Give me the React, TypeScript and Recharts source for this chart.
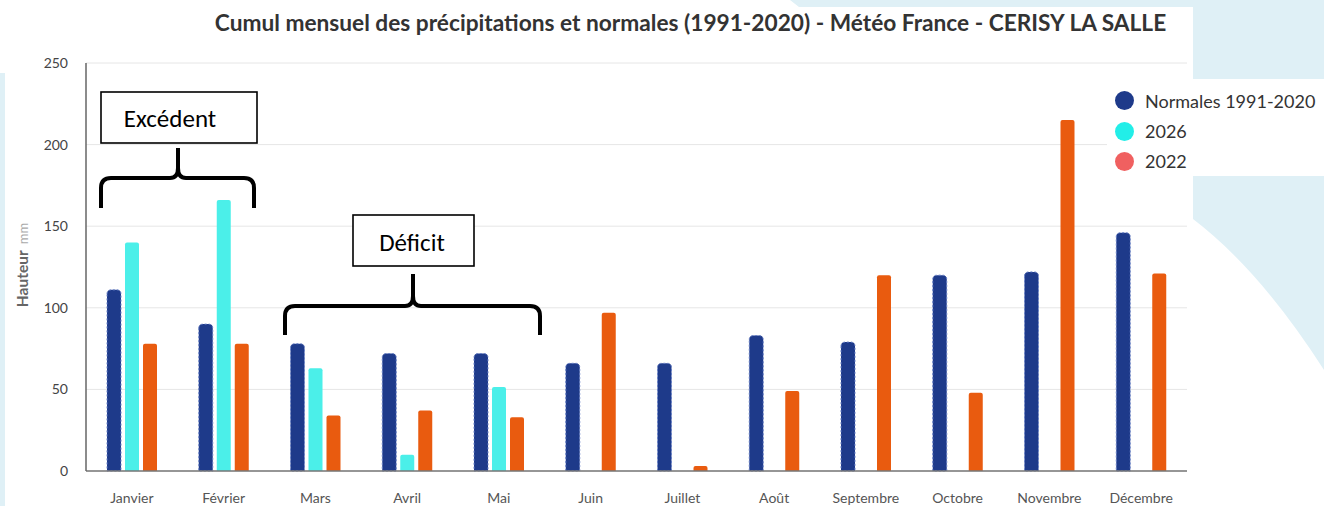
import React from 'react';
import { BarChart, Bar, XAxis, YAxis, CartesianGrid } from 'recharts';

const months = ['Janvier', 'Février', 'Mars', 'Avril', 'Mai', 'Juin', 'Juillet', 'Août', 'Septembre', 'Octobre', 'Novembre', 'Décembre'];
const normales = [111, 90, 78, 72, 72, 66, 66, 83, 79, 120, 122, 146];
const values2026: (number | null)[] = [140, 166, 63, 10, 51.5, null, null, null, null, null, null, null];
const values2022 = [78, 78, 34, 37, 33, 97, 3, 49, 120, 48, 215, 121];
const yTicks = [0, 50, 100, 150, 200, 250];

const data = months.map((m, i) => ({ month: m, normales: normales[i], y2026: values2026[i], y2022: values2022[i] }));

const legendItems = [
  { label: 'Normales 1991-2020', color: '#1e3a8a' },
  { label: '2026', color: '#22eee8' },
  { label: '2022', color: '#f06060' },
];

const FONT = 'Lato, "Open Sans", sans-serif';
const BG = '#dff0f6';

const LegendBox = () => (
  <div style={{ position: 'absolute', left: 1107, top: 79, background: '#fff', width: 217, height: 97, paddingTop: 6, boxSizing: 'border-box', fontFamily: FONT }}>
    {legendItems.map((it, i) => (
      <div key={i} style={{ display: 'flex', alignItems: 'center', height: i === 0 ? 31 : 30, marginLeft: 8 }}>
        <span style={{ width: 19, height: 19, borderRadius: '50%', background: it.color, display: 'inline-block', marginRight: 11 }} />
        <span style={{ fontSize: 18, color: '#333' }}>{it.label}</span>
      </div>
    ))}
  </div>
);

export default function App() {
  return (
    <div style={{ position: 'absolute', left: 0, top: 0, width: 1324, height: 506, background: '#fff', overflow: 'hidden' }}>
      <svg width={1324} height={506} style={{ position: 'absolute', left: 0, top: 0 }}>
        <rect x={0} y={73} width={5} height={433} fill={BG} />
        <polygon points="790,0 1324,0 1324,79 1193,79 1193,7 799,7" fill={BG} />
        <path d="M1193,176 L1324,176 L1324,370 Q1260,270 1193,219 Z" fill={BG} />
      </svg>
      <div style={{ position: 'absolute', left: 0, top: 9, width: 1381, textAlign: 'center', fontFamily: FONT, fontWeight: 700, fontSize: 22.7, color: '#333', whiteSpace: 'nowrap' }}>
        Cumul mensuel des précipitations et normales (1991-2020) - Météo France - CERISY LA SALLE
      </div>
      <div style={{ position: 'absolute', left: 0, top: 0 }}>
        <BarChart width={1324} height={506} data={data} margin={{ top: 63, right: 137, bottom: 5, left: 26 }} barSize={14} barGap={4}>
          <CartesianGrid vertical={false} stroke="#e6e6e6" />
          <XAxis dataKey="month" height={30} tickLine={false} axisLine={{ stroke: '#777', strokeWidth: 1.5 }} tick={{ fill: '#555', fontSize: 14, fontFamily: FONT }} tickSize={0} tickMargin={22} interval={0} />
          <YAxis width={60} domain={[0, 250]} ticks={yTicks} tickLine={false} axisLine={{ stroke: '#666', strokeWidth: 1.5 }} tick={{ fill: '#444', fontSize: 14, fontFamily: FONT }} tickSize={0} tickMargin={18} />
          <Bar dataKey="normales" name="Normales 1991-2020" fill="#1e3a8a" stroke="#6a82c8" strokeWidth={1} strokeDasharray="2 2" radius={[4, 4, 0, 0]} isAnimationActive={false} />
          <Bar dataKey="y2026" name="2026" fill="#4befe9" radius={[2, 2, 0, 0]} isAnimationActive={false} />
          <Bar dataKey="y2022" name="2022" fill="#e95b0f" radius={[2, 2, 0, 0]} isAnimationActive={false} />
        </BarChart>
      </div>
      <LegendBox />
      <svg width={1324} height={506} style={{ position: 'absolute', left: 0, top: 0, pointerEvents: 'none' }}>
        <g fontFamily='Carlito, Calibri, "Open Sans", "Noto Sans", sans-serif' fontSize={25} fill="#000">
          <rect x={101} y={92} width={156} height={51} fill="#fff" stroke="#000" strokeWidth={1.6} />
          <text x={170} y={127} textAnchor="middle">Excédent</text>
          <path d="M101,208 L101,188 Q101,178 111,178 L170,178 Q178,178 178,168 L178,148 M178,168 Q178,178 186,178 L244,178 Q254,178 254,188 L254,208" fill="none" stroke="#000" strokeWidth={4} />
          <rect x={353} y={215} width={121} height={51} fill="#fff" stroke="#000" strokeWidth={1.6} />
          <text x={412} y={251} textAnchor="middle">Déficit</text>
          <path d="M285,335 L285,316 Q285,306 295,306 L405,306 Q413,306 413,296 L413,274 M413,296 Q413,306 421,306 L530,306 Q540,306 540,316 L540,335" fill="none" stroke="#000" strokeWidth={4} />
        </g>
        <text transform="translate(28,265) rotate(-90)" textAnchor="middle" fontFamily={FONT} fontSize={15.5}>
          <tspan fill="#666" fontWeight={700}>Hauteur</tspan>
          <tspan fill="#aaa" fontSize={13} dx={6}>mm</tspan>
        </text>
      </svg>
    </div>
  );
}
